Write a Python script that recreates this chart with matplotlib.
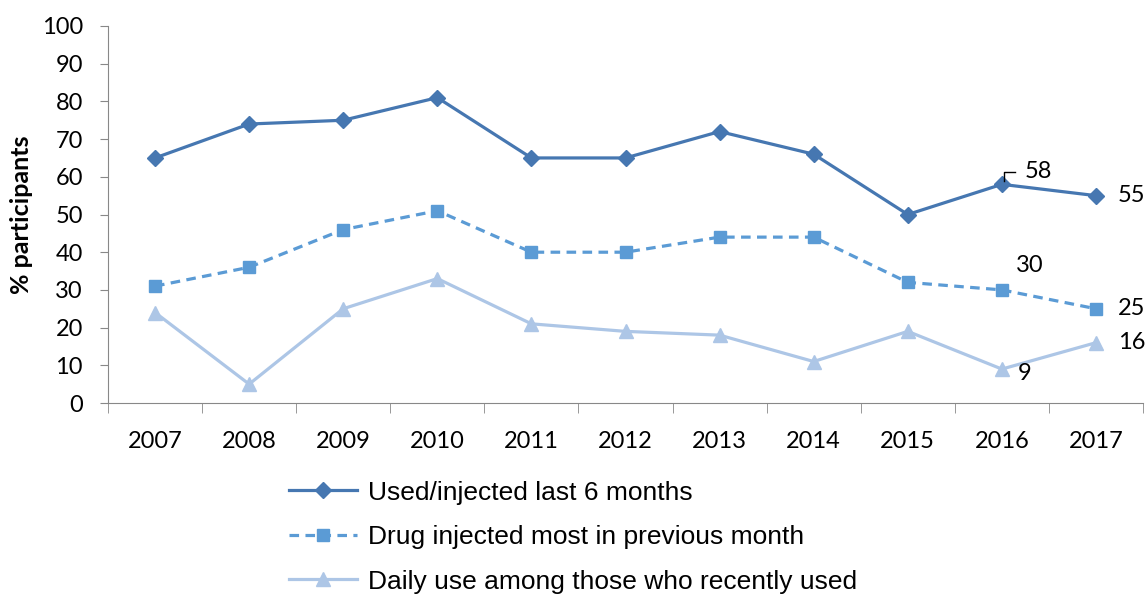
import numpy as np
import matplotlib.pyplot as plt
from matplotlib.lines import Line2D

years = ["2007", "2008", "2009", "2010", "2011", "2012", "2013", "2014", "2015", "2016", "2017"]
used_6m = [65, 74, 75, 81, 65, 65, 72, 66, 50, 58, 55]
most_month = [31, 36, 46, 51, 40, 40, 44, 44, 32, 30, 25]
daily_use = [24, 5, 25, 33, 21, 19, 18, 11, 19, 9, 16]
names = ["Used/injected last 6 months",
         "Drug injected most in previous month",
         "Daily use among those who recently used"]

c1 = "#4677B1"
c2 = "#5B9BD5"
c3 = "#ADC6E6"

fig = plt.figure(figsize=(11.48, 5.95), dpi=100)
ax = fig.add_axes([108/1148, 192/595, (1143-108)/1148, (403-26)/595])

x = np.arange(len(years))
ax.plot(x, used_6m, color=c1, lw=2.3, marker="D", ms=8)
ax.plot(x, most_month, color=c2, lw=2.3, ls=(0, (3, 2)), marker="s", ms=9)
ax.plot(x, daily_use, color=c3, lw=2.3, marker="^", ms=10)

ax.set_xlim(-0.5, len(years) - 0.5)
ax.set_ylim(0, 100)
ax.set_yticks(range(0, 101, 10))
ax.set_xticks(x)
ax.set_xticklabels(years)
ax.set_xticks(np.arange(-0.5, len(years)), minor=True)
ax.tick_params(axis="x", which="major", length=0, pad=20)
ax.tick_params(axis="x", which="minor", length=7, color="#888888")
ax.tick_params(axis="y", length=6, color="#888888", pad=12)
for lab in ax.get_xticklabels() + ax.get_yticklabels():
    lab.set_fontfamily("Lato")
    lab.set_fontsize(17)
for s in ["top", "right"]:
    ax.spines[s].set_visible(False)
for s in ["left", "bottom"]:
    ax.spines[s].set_color("#888888")

ax.set_ylabel("% participants", family="Lato", fontweight="bold", fontsize=18, labelpad=6)

# data labels
lbl = dict(family="Lato", fontsize=17, va="center", ha="left", textcoords="offset points")
ax.annotate(str(used_6m[9]), (9, used_6m[9]), xytext=(16.5, 9.5), **lbl)
ax.plot([9.02, 9.02, 9.14], [used_6m[9] + 0.8, used_6m[9] + 3.2, used_6m[9] + 3.2], color="black", lw=1)
ax.annotate(str(used_6m[10]), (10, used_6m[10]), xytext=(16, 0), **lbl)
ax.annotate(str(most_month[9]), (9, most_month[9]), xytext=(10, 17.5), **lbl)
ax.annotate(str(most_month[10]), (10, most_month[10]), xytext=(16, 0), **lbl)
ax.annotate(str(daily_use[10]), (10, daily_use[10]), xytext=(16, 0), **lbl)
ax.annotate(str(daily_use[9]), (9, daily_use[9]), xytext=(11.5, -3), **lbl)

handles = [Line2D([], [], color=c1, lw=2.3, marker="D", ms=8),
           Line2D([], [], color=c2, lw=2.3, ls=(0, (3, 2)), marker="s", ms=9),
           Line2D([], [], color=c3, lw=2.3, marker="^", ms=10)]
fig.legend(handles, names, loc="upper left", bbox_to_anchor=(278/1148, 1 - 470/595),
           frameon=False, prop={"family": "Liberation Sans", "size": 19},
           handlelength=2.6, labelspacing=0.78, handletextpad=0.4, borderaxespad=0)

fig.savefig("out.png", dpi=100)
